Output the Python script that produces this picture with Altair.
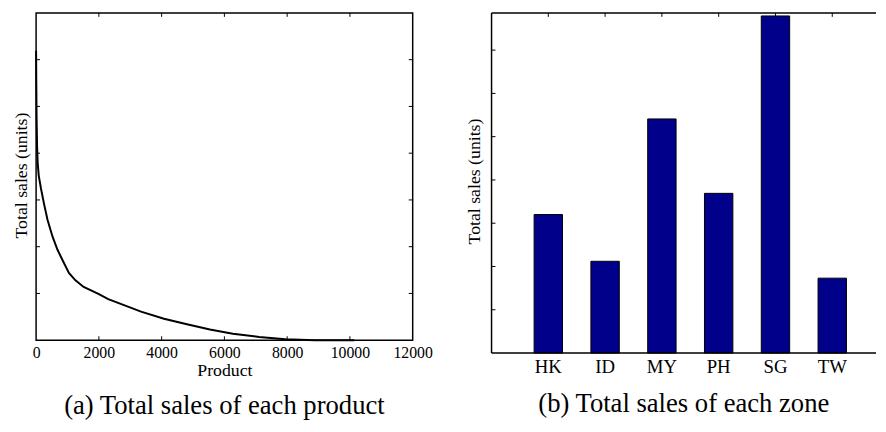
import altair as alt
import pandas as pd

# ---- data ----
products = [0, 5, 15, 31, 50, 84, 157, 261, 366, 522, 679, 836, 1045, 1254, 1515,
            1985, 2299, 2717, 3344, 4075, 4807, 5538, 6270, 7106, 7942, 8882, 10136]
product_sales = [6.19, 5.6, 4.8, 4.15, 3.8, 3.52, 3.24, 2.89, 2.57, 2.22, 1.94, 1.72, 1.44, 1.28, 1.14,
                 0.99, 0.88, 0.77, 0.61, 0.46, 0.34, 0.23, 0.14, 0.07, 0.02, 0.0, 0.0]

zones = ["HK", "ID", "MY", "PH", "SG", "TW"]
zone_sales = [3.2, 2.12, 5.41, 3.69, 7.79, 1.73]

x_labels_a = [0, 2000, 4000, 6000, 8000, 10000, 12000]
x_ticks_a = [2000, 4000, 6000, 8000, 10000]
y_ticks_a = [1, 2, 3, 4, 5, 6]
y_ticks_b = [1, 2, 3, 4, 5, 6, 7]

SERIF = "Liberation Serif"
W_A, H_A = 382, 332
W_B, H_B = 390, 345
TICK = 4

df_a = pd.DataFrame({"product": products, "sales": product_sales})
df_b = pd.DataFrame({"zone": zones, "sales": zone_sales})
df_xt = pd.DataFrame({"product": x_ticks_a})
df_yt_a = pd.DataFrame({"sales": y_ticks_a})
df_yt_b = pd.DataFrame({"sales": y_ticks_b})
df_one = pd.DataFrame({"k": [0]})

xs_a = alt.Scale(domain=[0, 12000], nice=False)
ys_a = alt.Scale(domain=[0, 7], nice=False)
ys_b = alt.Scale(domain=[0, 7.86], nice=False)
xs_b = alt.Scale(domain=zones, paddingInner=0.5, paddingOuter=0.635, align=0.59)

ax_x_a = alt.Axis(values=x_labels_a, format="d", ticks=False, domain=False, grid=False,
                  labelFlush=False, labelFont=SERIF, labelFontSize=16, labelPadding=5,
                  labelColor="black",
                  title="Product", titleFont=SERIF, titleFontSize=18, titleFontWeight="normal",
                  titleColor="black", titleY=36, titleBaseline="alphabetic")
ax_y_a = alt.Axis(labels=False, ticks=False, domain=False, grid=False,
                  title="Total sales (units)", titleFont=SERIF, titleFontSize=18,
                  titleFontWeight="normal", titleColor="black",
                  titleX=-15, titleY=H_A / 2 - 1.5, titleAngle=270,
                  titleAlign="center", titleBaseline="middle")
ax_x_b = alt.Axis(title=None, labelAngle=0, ticks=False, domain=False, grid=False,
                  labelFont=SERIF, labelFontSize=19, labelPadding=4.6, labelColor="black")
ax_y_b = alt.Axis(labels=False, ticks=False, domain=False, grid=False,
                  title="Total sales (units)", titleFont=SERIF, titleFontSize=18,
                  titleFontWeight="normal", titleColor="black",
                  titleX=-17, titleY=170.5, titleAngle=270,
                  titleAlign="center", titleBaseline="middle")

# ---- panel (a) ----
line = alt.Chart(df_a).mark_line(color="black", strokeWidth=2).encode(
    x=alt.X("product:Q", scale=xs_a, axis=ax_x_a),
    y=alt.Y("sales:Q", scale=ys_a, axis=ax_y_a),
)

xt_bottom = alt.Chart(df_xt).mark_rule(color="black", strokeWidth=1).encode(
    x=alt.X("product:Q", scale=xs_a, axis=ax_x_a), y=alt.value(H_A), y2=alt.value(H_A - TICK))
xt_top = alt.Chart(df_xt).mark_rule(color="black", strokeWidth=1).encode(
    x=alt.X("product:Q", scale=xs_a, axis=ax_x_a), y=alt.value(0), y2=alt.value(TICK))
yt_left = alt.Chart(df_yt_a).mark_rule(color="black", strokeWidth=1).encode(
    y=alt.Y("sales:Q", scale=ys_a, axis=ax_y_a), x=alt.value(0), x2=alt.value(TICK))
yt_right = alt.Chart(df_yt_a).mark_rule(color="black", strokeWidth=1).encode(
    y=alt.Y("sales:Q", scale=ys_a, axis=ax_y_a), x=alt.value(W_A - TICK), x2=alt.value(W_A))

panel_a = alt.layer(line, xt_bottom, xt_top, yt_left, yt_right).properties(
    width=W_A, height=H_A,
    view=alt.ViewBackground(stroke="black", strokeWidth=1.5),
    title=alt.TitleParams("(a) Total sales of each product", orient="bottom", anchor="middle",
                          font=SERIF, fontSize=27, fontWeight="normal", color="black",
                          offset=14, baseline="top"),
)

# ---- panel (b) ----
bars = alt.Chart(df_b).mark_bar(color="#00008B", stroke="black", strokeWidth=1).encode(
    x=alt.X("zone:N", sort=zones, scale=xs_b, axis=ax_x_b),
    y=alt.Y("sales:Q", scale=ys_b, axis=ax_y_b),
)

xt_top_b = alt.Chart(df_b).mark_rule(color="black", strokeWidth=1).encode(
    x=alt.X("zone:N", sort=zones, scale=xs_b, axis=ax_x_b), y=alt.value(0), y2=alt.value(TICK))
yt_left_b = alt.Chart(df_yt_b).mark_rule(color="black", strokeWidth=1).encode(
    y=alt.Y("sales:Q", scale=ys_b, axis=ax_y_b), x=alt.value(0), x2=alt.value(TICK))

frame_left = alt.Chart(df_one).mark_rule(color="black", strokeWidth=1.5).encode(
    x=alt.value(0), y=alt.value(0), y2=alt.value(H_B))
frame_top = alt.Chart(df_one).mark_rule(color="black", strokeWidth=1.5).encode(
    x=alt.value(0), x2=alt.value(W_B), y=alt.value(0))
frame_bottom = alt.Chart(df_one).mark_rule(color="black", strokeWidth=1.5).encode(
    x=alt.value(0), x2=alt.value(W_B), y=alt.value(H_B))

panel_b = alt.layer(bars, xt_top_b, yt_left_b, frame_left, frame_top, frame_bottom).properties(
    width=W_B, height=H_B,
    view=alt.ViewBackground(stroke="transparent"),
    title=alt.TitleParams("(b) Total sales of each zone", orient="bottom", anchor="middle",
                          font=SERIF, fontSize=27, fontWeight="normal", color="black",
                          offset=15, baseline="top"),
)

chart = alt.hconcat(panel_a, panel_b, spacing=80, bounds="flush").properties(
    padding={"left": 3.5, "top": 0, "right": 0, "bottom": 0}
).configure_view(stroke="black")

chart.save("out.html", embed_options={"renderer": "svg", "actions": False})
